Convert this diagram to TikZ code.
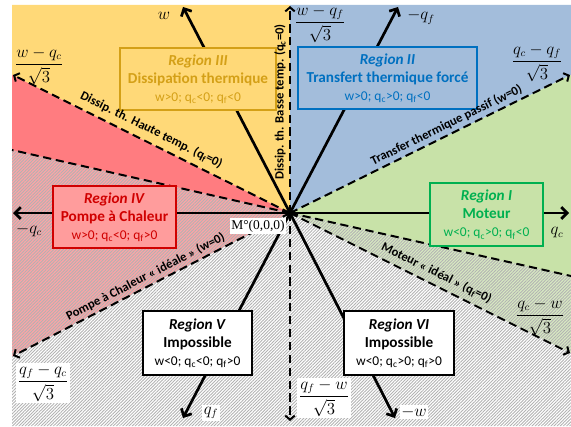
\documentclass[tikz,border=0pt]{standalone}
\usepackage{amsmath}
\usepackage[no-math]{fontspec}
\setmainfont{Carlito}
\newfontfamily\serifm{Liberation Serif}
\usetikzlibrary{arrows.meta,patterns.meta}
\definecolor{cY}{HTML}{FFD978}
\definecolor{cB}{HTML}{A3BDDB}
\definecolor{cG}{HTML}{C8E2A8}
\definecolor{cR}{HTML}{FF7C80}
\definecolor{cRbox}{HTML}{FF9C9C}
\definecolor{tY}{HTML}{D4A017}
\definecolor{tB}{HTML}{0070C0}
\definecolor{tG}{HTML}{00B050}
\definecolor{tR}{HTML}{D00000}
\newcommand{\sbs}[1]{\textsubscript{#1}}
\newcommand{\cnd}{\fontsize{11.5}{14}\selectfont}
\begin{document}
\begin{tikzpicture}[x=0.03cm,y=-0.03cm,
  axis/.style={line width=2.3pt,-{Straight Barb[length=5pt,width=10pt]}},
  dline/.style={line width=1.7pt,dash pattern=on 7pt off 4pt,-{Straight Barb[length=3.5pt,width=8pt]}},
  hline/.style={line width=1.7pt,dash pattern=on 7pt off 4pt},
  region/.style={draw,line width=1.5pt,align=center,inner sep=2pt,font=\fontsize{13}{15.5}\selectfont},
  mlab/.style={inner sep=1.5pt,font=\fontsize{13.5}{15}\selectfont},
  wlab/.style={mlab,fill=white},
  dlab/.style={font=\fontsize{10.8}{12}\selectfont\bfseries,inner sep=1pt}]
\useasboundingbox (0,0) rectangle (571,426);
\coordinate (O) at (290,213);
% region fills
\fill[cY] (O) -- (290,5) -- (12,5) -- (12,75) -- cycle;
\fill[cB] (O) -- (571,75) -- (571,5) -- (290,5) -- cycle;
\fill[cG] (O) -- (571,75) -- (571,353) -- cycle;
\fill[cR] (O) -- (12,75) -- (12,356) -- cycle;
% hatched half-plane
\fill[white,opacity=0.3] (12,150) -- (571,276) -- (571,426) -- (12,426) -- cycle;
\fill[pattern={Lines[angle=45,distance=1.9pt,line width=0.75pt]},pattern color=black!30] (12,150) -- (571,276) -- (571,426) -- (12,426) -- cycle;
% coordinates
\coordinate (eW) at (183,7);
\coordinate (eMqf) at (398,7);
\coordinate (eQc) at (569,213);
\coordinate (eMqc) at (13,213);
\coordinate (eQf) at (183,418);
\coordinate (eMw) at (395,418);
\coordinate (d90) at (290,6);
\coordinate (d270) at (290,421);
\coordinate (d150) at (13,75);
\coordinate (d210) at (13,356);
\coordinate (d30) at (570,75);
\coordinate (d330) at (570,353);
\coordinate (h1) at (12,150);
\coordinate (h2) at (571,276);
% dashed lines
\draw[hline] (O) -- (h1);
\draw[hline] (O) -- (h2);
\draw[dline] (O) -- (d90);
\draw[dline] (O) -- (d270);
\draw[dline] (O) -- (d150);
\draw[dline] (O) -- (d210);
\draw[dline] (O) -- (d30);
\draw[dline] (O) -- (d330);
% axes
\draw[axis] (O) -- (eW);
\draw[axis] (O) -- (eMqf);
\draw[axis] (O) -- (eQc);
\draw[axis] (O) -- (eMqc);
\draw[axis] (O) -- (eQf);
\draw[axis] (O) -- (eMw);
% region boxes
\node[region,draw=tY,fill=cY,text=tY,minimum width=4.68cm,minimum height=1.86cm] (r3) at (198,79)
  {\textbf{\textit{Region III}}\\\textbf{Dissipation thermique}\\{\cnd w>0; q\sbs{c}<0; q\sbs{f}<0}};
\node[region,draw=tB,fill=cB,text=tB,minimum width=5.37cm,minimum height=1.86cm] (r2) at (387.5,78)
  {\textbf{\textit{Region II}}\\\textbf{Transfert thermique forcé}\\{\cnd w>0; q\sbs{c}>0; q\sbs{f}<0}};
\node[region,draw=tG,fill=cG,text=tG,minimum width=3.39cm,minimum height=1.89cm] (r1) at (486.5,214.5)
  {\textbf{\textit{Region I}}\\\textbf{Moteur}\\{\cnd w<0; q\sbs{c}>0; q\sbs{f}<0}};
\node[region,draw=tR,fill=cRbox,text=tR,minimum width=3.69cm,minimum height=1.86cm] (r4) at (114.5,217)
  {\textbf{\textit{Region IV}}\\\textbf{Pompe à Chaleur}\\{\cnd w>0; q\sbs{c}<0; q\sbs{f}>0}};
\node[region,draw=black,fill=white,text=black,minimum width=3.27cm,minimum height=1.92cm] (r5) at (197.5,343)
  {\textbf{\textit{Region V}}\\\textbf{Impossible}\\{\cnd w<0; q\sbs{c}<0; q\sbs{f}>0}};
\node[region,draw=black,fill=white,text=black,minimum width=3.3cm,minimum height=1.92cm] (r6) at (399,343)
  {\textbf{\textit{Region VI}}\\\textbf{Impossible}\\{\cnd w<0; q\sbs{c}>0; q\sbs{f}>0}};
% dashed-line labels
\node[dlab,rotate=90] (lqc0) at (280,102) {Dissip. th. Basse temp. (q\sbs{c}=0)};
\node[dlab,rotate=-26.5] (lqf0a) at (151.5,130) {Dissip. th. Haute temp. (q\sbs{f}=0)};
\node[dlab,rotate=26.2] (lw0a) at (446.5,125) {Transfer thermique passif (w=0)};
\node[dlab,rotate=27.3] (lw0b) at (145.5,277) {Pompe à Chaleur « idéale » (w=0)};
\node[dlab,rotate=-26.5] (lqf0b) at (436.5,273) {Moteur « idéal » (q\sbs{f}=0)};
% axis labels
\node[mlab] (lw) at (164,16) {$w$};
\node[mlab] (lmqf) at (421,17) {$-q_f$};
\node[mlab] (lqc) at (557,233) {$q_c$};
\node[mlab] (lmqc) at (29,230) {$-q_c$};
\node[wlab] (lqf) at (211,413) {$q_f$};
\node[wlab] (lmw) at (414,412) {$-w$};
\node[mlab] (f1) at (320,24) {$\dfrac{w-q_f}{\sqrt{3}}$};
\node[mlab] (f2) at (537,63) {$\dfrac{q_c-q_f}{\sqrt{3}}$};
\node[mlab] (f3) at (39,66) {$\dfrac{w-q_c}{\sqrt{3}}$};
\node[mlab] (f4) at (540,317) {$\dfrac{q_c-w}{\sqrt{3}}$};
\node[wlab] (f5) at (43,383) {$\dfrac{q_f-q_c}{\sqrt{3}}$};
\node[wlab] (f6) at (324,398) {$\dfrac{q_f-w}{\sqrt{3}}$};
\node[fill=white,inner sep=1.5pt,font=\serifm\fontsize{11.5}{13}\selectfont] (M) at (258,226) {M°(0,0,0)};
\end{tikzpicture}
\end{document}
